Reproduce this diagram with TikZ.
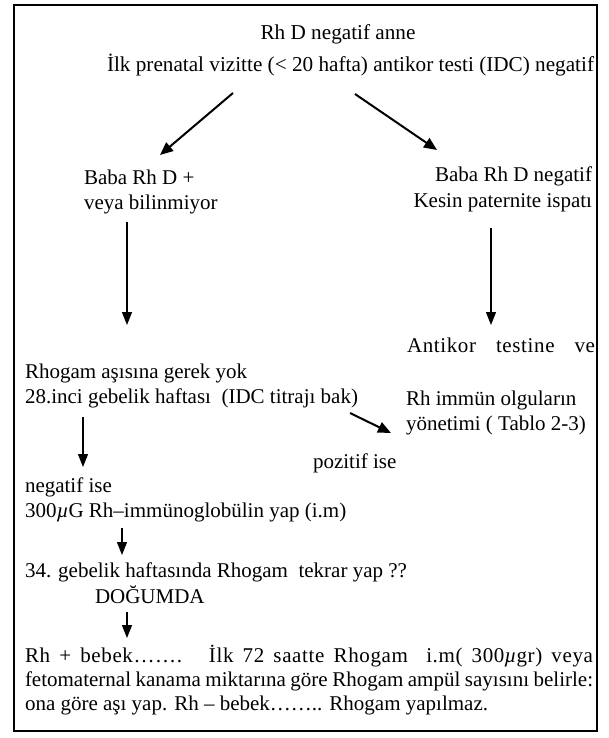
\documentclass[tikz,border=0pt]{standalone}
\usepackage{fontspec}
\setmainfont{Liberation Serif}
\usetikzlibrary{arrows.meta}
\tikzset{
  txt/.style={inner sep=0pt, outer sep=0pt, font=\fontsize{21}{25}\selectfont},
  big/.style={inner sep=0pt, outer sep=0pt, font=\fontsize{21.2}{30}\selectfont},
  lw/.style={txt, anchor=base west},
  le/.style={txt, anchor=base east},
  varrow/.style={line width=1.3pt, -{Triangle[length=13pt,width=10pt]}},
  darrow/.style={line width=2pt, -{Triangle[length=13pt,width=11pt]}},
  frame/.style={line width=1.8pt}
}
\begin{document}
\begin{tikzpicture}[x=1pt,y=-1pt]
\useasboundingbox (0,0) rectangle (609,738);
\draw[frame] (14,5) rectangle (597,731);

\node[big, anchor=base] (t1) at (338,40) {Rh D negatif anne};
\node[big, anchor=base west] (t2) at (107,72) {İlk prenatal vizitte (< 20 hafta) antikor testi (IDC) negatif};

\coordinate (d1s) at (233,93);
\coordinate (d1e) at (160,155);
\coordinate (d2s) at (355,94);
\coordinate (d2e) at (437,150);
\draw[darrow] (d1s) -- (d1e);
\draw[darrow] (d2s) -- (d2e);

\node[lw] (l1) at (84,184) {Baba Rh D +};
\node[lw] (l2) at (84,209) {veya bilinmiyor};
\node[le] (r1) at (592,182) {Baba Rh D negatif};
\node[le] (r2) at (592,207) {Kesin paternite ispatı};

\coordinate (v1s) at (127,222);
\coordinate (v1e) at (127,325);
\coordinate (v2s) at (491,228);
\coordinate (v2e) at (491,325);
\draw[varrow] (v1s) -- (v1e);
\draw[varrow] (v2s) -- (v2e);

\node[le] (ak) at (595,352) {\addfontfeature{LetterSpace=3}\makebox[188pt][s]{Antikor testine ve}};

\node[lw] (m1) at (25,378) {Rhogam aşısına gerek yok};
\node[lw] (m2) at (25,403) {28.inci gebelik haftası\ \ (IDC titrajı bak)};
\node[lw] (i1) at (406,405) {Rh immün olguların};
\node[lw] (i2) at (406,430) {yönetimi ( Tablo 2-3)};

\coordinate (p1s) at (350,413);
\coordinate (p1e) at (391,433);
\draw[darrow] (p1s) -- (p1e);
\node[lw] (poz) at (313,468) {pozitif ise};

\coordinate (v3s) at (83,417);
\coordinate (v3e) at (83,467);
\draw[varrow] (v3s) -- (v3e);

\node[lw] (n1) at (25,492) {negatif ise};
\node[lw] (n2) at (25,517) {300{\itshape µ}G Rh–immünoglobülin yap (i.m)};

\coordinate (v4s) at (122,528);
\coordinate (v4e) at (122,555);
\draw[varrow] (v4s) -- (v4e);

\node[lw] (h34) at (25,577) {34. gebelik haftasında Rhogam\ \ tekrar yap ??};
\node[lw] (dog) at (95,603) {DOĞUMDA};

\coordinate (v5s) at (127,612);
\coordinate (v5e) at (127,638);
\draw[varrow] (v5s) -- (v5e);

\node[lw] (b1) at (25,662) {\addfontfeature{LetterSpace=3}\makebox[568pt][s]{Rh + bebek……. \ İlk 72 saatte Rhogam \ i.m( 300{\itshape µ}gr) veya}};
\node[lw] (b2) at (25,686) {\makebox[568pt][s]{fetomaternal kanama miktarına göre Rhogam ampül sayısını belirle:}};
\node[lw] (b3) at (25,710) {ona göre aşı yap. Rh – bebek…….. Rhogam yapılmaz.};
\end{tikzpicture}
\end{document}
